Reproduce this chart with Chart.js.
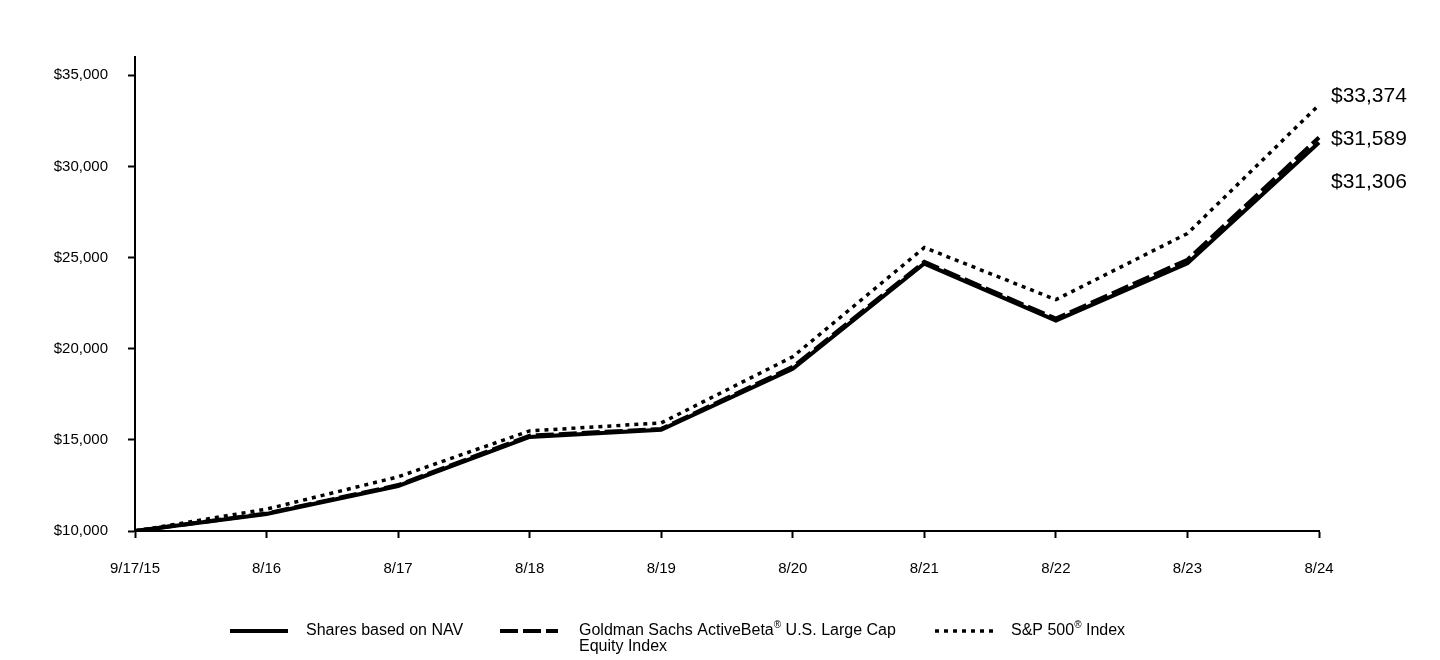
<!DOCTYPE html>
<html>
<head>
<meta charset="utf-8">
<script src="https://cdn.jsdelivr.net/npm/chart.js@4"></script>
<style>
  html, body { margin: 0; padding: 0; background: #fff; }
  #wrap { width: 1440px; height: 660px; position: relative; }
</style>
</head>
<body>
<div id="wrap"><canvas id="myChart" width="1440" height="660"></canvas></div>
<script>
// dati
const dates = ['9/17/15', '8/16', '8/17', '8/18', '8/19', '8/20', '8/21', '8/22', '8/23', '8/24'];
const navValues = [10000, 10930, 12470, 15160, 15550, 18900, 24670, 21540, 24680, 31306];
const indexValues = [10000, 10960, 12520, 15230, 15600, 19000, 24760, 21650, 24880, 31589];
const spValues = [10000, 11200, 12970, 15490, 15930, 19560, 25550, 22690, 26320, 33374];
const seriesNames = ['Shares based on NAV', 'Goldman Sachs ActiveBeta\u00AE U.S. Large Cap|Equity Index', 'S&P 500\u00AE Index'];
const endLabels = ['$33,374', '$31,589', '$31,306'];
const yTicks = [10000, 15000, 20000, 25000, 30000, 35000];

const FONT = "'Liberation Sans', Arial, sans-serif";
const dashes = [[], [18, 5], [4, 5]];

// scrive il testo con ® in apice
function drawSup(ctx, text, x, y, size) {
  const parts = text.split('\u00AE');
  let cx = x;
  parts.forEach((p, i) => {
    ctx.font = size + 'px ' + FONT;
    ctx.fillText(p, cx, y);
    cx += ctx.measureText(p).width;
    if (i < parts.length - 1) {
      ctx.font = Math.round(size * 0.6) + 'px ' + FONT;
      ctx.fillText('\u00AE', cx, y - size * 0.35);
      cx += ctx.measureText('\u00AE').width;
    }
  });
}

/* etichette a destra + legenda in basso */
const extraPlugin = {
  id: 'extra',
  afterDraw(chart) {
    const ctx = chart.ctx;
    const area = chart.chartArea;
    const y = chart.scales.y;
    ctx.save();
    ctx.fillStyle = '#000';
    ctx.font = '21px ' + FONT;
    ctx.textBaseline = 'middle';
    ctx.textAlign = 'left';
    const top = y.getPixelForValue(Math.max(...spValues)) - 9;
    endLabels.forEach((t, i) => ctx.fillText(t, area.right + 12, top + i * 43));

    // legenda
    const items = [{x: 230, tx: 306}, {x: 500, tx: 579}, {x: 935, tx: 1011}];
    const ly = 631;
    items.forEach((it, i) => {
      ctx.beginPath();
      ctx.setLineDash(dashes[i]);
      ctx.lineWidth = i === 2 ? 3.5 : 4;
      ctx.strokeStyle = '#000';
      ctx.moveTo(it.x, ly);
      ctx.lineTo(it.x + 58, ly);
      ctx.stroke();
      seriesNames[i].split('|').forEach((line, k) => {
        drawSup(ctx, line, it.tx, ly + k * 16, 16);
      });
    });
    ctx.restore();
  }
};

const mk = (label, data, i) => ({
  label: label,
  data: data,
  borderColor: '#000',
  backgroundColor: '#000',
  borderWidth: i === 2 ? 3.5 : 4,
  borderDash: dashes[i],
  pointRadius: 0,
  tension: 0,
  fill: false
});

const config = {
  type: 'line',
  data: {
    labels: dates,
    datasets: [
      mk(seriesNames[0], navValues, 0),
      mk(seriesNames[1], indexValues, 1),
      mk(seriesNames[2], spValues, 2)
    ]
  },
  options: {
    responsive: false,
    animation: false,
    devicePixelRatio: 1,
    layout: { padding: { left: 0, right: 121, top: 57, bottom: 79 } },
    plugins: { legend: { display: false }, tooltip: { enabled: false } },
    scales: {
      x: {
        offset: false,
        grid: { drawOnChartArea: false, drawTicks: true, tickLength: 7, tickColor: '#000', tickWidth: 2 },
        border: { display: true, color: '#000', width: 2 },
        ticks: { color: '#000', font: { family: FONT, size: 15 }, padding: 22, maxRotation: 0, autoSkip: false },
        afterFit(s) { s.height = 50; }
      },
      y: {
        min: 10000,
        max: 36000,
        afterBuildTicks(s) { s.ticks = yTicks.map(v => ({ value: v })); },
        grid: { drawOnChartArea: false, drawTicks: true, tickLength: 7, tickColor: '#000', tickWidth: 2 },
        border: { display: true, color: '#000', width: 2 },
        ticks: {
          color: '#000',
          font: { family: FONT, size: 15 },
          padding: 20,
          callback: v => '$' + v.toLocaleString('en-US')
        },
        afterFit(s) { s.width = 135; }
      }
    }
  },
  plugins: [extraPlugin]
};

window.addEventListener('load', function () {
  new Chart(document.getElementById('myChart').getContext('2d'), config);
});
</script>
</body>
</html>
